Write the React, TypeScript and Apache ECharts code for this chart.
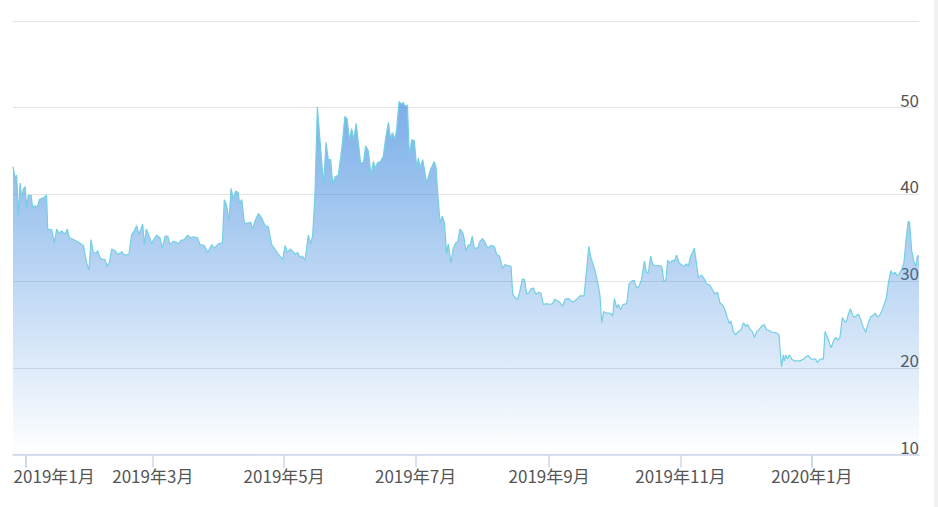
import React, { useEffect, useRef } from 'react';
import * as echarts from 'echarts';

// x values: days counted from START_DATE (fractional)
const START_DATE = '2019-01-01';
const dayOffsets = [
  -5.9, -5.0, -4.2, -3.4, -2.6, -1.9, -1.1, -0.3, 0.4, 1.2, 2.5, 3.2, 4.3, 5.4, 6.3, 8.2, 9.7, 10.2, 12.1, 13.3,
  14.4, 15.5, 16.7, 18.2, 19.3, 20.3, 22.1, 24.4, 26.8, 28.3, 29.4, 30.3, 31.4, 32.5, 33.4, 34.5, 35.6, 36.8, 37.9, 38.8,
  39.9, 41.5, 42.7, 43.8, 44.6, 45.8, 47.9, 49.2, 50.4, 51.5, 52.6, 53.5, 54.3, 55.1, 56.0, 57.3, 58.5, 59.4, 60.8, 62.3,
  63.4, 64.7, 65.9, 67.0, 68.5, 69.8, 70.9, 72.1, 73.6, 75.2, 76.3, 77.8, 79.8, 80.9, 82.9, 84.5, 86.3, 87.6, 89.4, 91.3,
  92.2, 93.3, 94.4, 95.3, 96.4, 97.5, 98.7, 99.2, 100.3, 101.5, 103.4, 104.4, 105.4, 106.4, 108.0, 109.5, 111.1, 112.6, 114.2, 115.7,
  117.3, 119.3, 120.4, 121.5, 122.7, 123.8, 125.0, 126.3, 127.3, 128.4, 129.7, 131.2, 132.3, 133.2, 134.3, 135.4, 136.6, 138.3, 139.4, 140.5,
  141.6, 142.5, 143.6, 145.1, 146.7, 148.2, 149.2, 150.3, 151.3, 152.3, 153.4, 154.4, 155.5, 156.8, 157.8, 159.1, 160.3, 161.4, 162.2, 163.4,
  164.5, 166.0, 167.1, 168.4, 169.3, 170.2, 171.5, 172.2, 173.3, 174.5, 175.3, 176.1, 177.2, 178.1, 179.2, 180.4, 181.5, 182.3, 183.1, 184.3,
  185.1, 186.1, 187.7, 189.6, 190.5, 191.6, 192.4, 193.4, 194.4, 195.4, 196.2, 197.4, 198.5, 199.6, 200.5, 201.6, 202.9, 203.6, 204.4, 205.5,
  206.3, 207.3, 208.3, 209.8, 210.9, 212.1, 213.2, 214.5, 216.0, 217.6, 218.6, 219.9, 221.3, 222.5, 223.8, 225.3, 226.1, 227.1, 228.4, 229.4,
  230.5, 231.5, 232.6, 233.7, 234.6, 235.7, 236.8, 238.3, 239.2, 240.3, 241.9, 243.4, 244.5, 245.7, 246.9, 248.1, 249.3, 250.4, 251.9, 253.2,
  254.2, 255.8, 257.3, 259.2, 260.3, 261.4, 262.4, 263.7, 264.7, 265.9, 266.6, 267.4, 268.3, 269.7, 271.3, 272.5, 273.3, 274.4, 275.1, 276.2,
  277.4, 279.0, 280.1, 281.3, 282.4, 283.6, 284.7, 285.9, 287.2, 288.2, 289.1, 290.1, 291.1, 292.2, 293.7, 295.3, 296.3, 297.3, 298.0, 299.1,
  300.2, 301.1, 302.2, 303.3, 304.5, 305.6, 306.8, 307.6, 308.7, 309.6, 310.4, 312.3, 313.8, 315.1, 316.1, 317.7, 318.8, 320.0, 321.2, 322.3,
  323.6, 324.6, 325.7, 326.7, 327.4, 328.5, 329.6, 330.8, 332.1, 333.2, 334.2, 335.2, 336.3, 337.3, 338.3, 339.4, 340.4, 341.7, 342.8, 344.0,
  345.1, 346.3, 347.6, 348.6, 349.7, 350.2, 350.9, 351.7, 352.2, 352.8, 353.7, 354.5, 355.6, 356.8, 357.9, 359.5, 361.0, 362.3, 363.3, 364.6,
  365.7, 366.7, 367.5, 368.8, 370.3, 371.1, 372.2, 373.1, 373.9, 375.0, 376.1, 377.0, 378.0, 379.1, 380.3, 381.1, 381.9, 382.9, 384.2, 385.3,
  386.5, 387.6, 388.6, 390.0, 391.2, 392.3, 393.2, 394.3, 395.3, 396.3, 397.4, 398.5, 399.4, 400.5, 401.6, 402.5, 403.6, 404.6, 405.4, 406.6,
  407.7, 408.7, 409.7, 410.3, 411.3, 412.3, 413.3, 414.0, 414.7,
];

const values = [
  43.2, 42.0, 42.2, 37.6, 41.3, 39.6, 40.6, 40.9, 38.5, 39.9, 39.9, 38.5, 38.7, 38.5, 39.4, 39.6, 39.9, 36.0, 35.9, 34.4,
  36.0, 35.5, 35.8, 35.4, 36.0, 35.0, 34.8, 34.5, 34.1, 32.1, 31.3, 34.8, 33.3, 33.2, 33.5, 32.7, 32.5, 32.5, 31.7, 32.1,
  33.7, 33.5, 33.1, 33.2, 33.4, 33.0, 33.1, 35.4, 35.8, 36.4, 35.4, 36.0, 36.6, 34.2, 36.0, 35.2, 34.3, 34.8, 35.3, 35.0,
  33.8, 35.2, 35.2, 34.2, 34.6, 34.5, 34.3, 34.7, 34.8, 35.3, 35.0, 35.1, 35.0, 34.2, 34.1, 33.3, 34.2, 33.8, 34.3, 34.4,
  39.4, 38.7, 36.9, 40.7, 39.5, 40.4, 40.2, 39.0, 39.4, 36.7, 36.7, 36.8, 36.0, 36.9, 37.8, 37.3, 36.4, 36.3, 34.2, 33.7,
  33.1, 32.5, 34.1, 33.3, 33.7, 33.5, 33.1, 33.3, 32.7, 32.9, 32.4, 35.3, 34.3, 35.2, 40.2, 50.1, 46.3, 41.0, 46.0, 44.0,
  44.0, 41.2, 42.0, 42.2, 45.2, 49.0, 48.7, 46.3, 47.6, 46.3, 48.2, 46.0, 43.6, 43.7, 45.6, 45.0, 42.2, 43.8, 43.0, 43.7,
  43.7, 44.4, 46.5, 48.3, 46.4, 47.1, 46.4, 47.5, 50.7, 50.4, 50.6, 50.2, 50.3, 44.4, 46.3, 46.2, 43.1, 44.2, 43.1, 44.0,
  42.9, 41.3, 42.7, 43.8, 43.1, 39.0, 36.7, 37.5, 36.7, 33.2, 34.3, 32.1, 33.8, 34.4, 34.5, 36.0, 35.6, 34.8, 33.5, 34.2,
  34.1, 35.2, 33.8, 33.8, 34.6, 34.9, 34.5, 33.8, 34.1, 34.0, 33.1, 32.9, 31.5, 31.9, 31.8, 31.7, 28.5, 28.1, 27.9, 28.8,
  30.2, 30.2, 28.5, 28.7, 29.1, 29.2, 28.5, 28.7, 28.6, 27.3, 27.4, 27.3, 27.4, 27.9, 27.7, 27.5, 27.1, 27.9, 28.0, 27.7,
  27.6, 27.9, 28.3, 28.3, 31.0, 34.0, 32.7, 31.7, 30.8, 29.4, 28.3, 25.2, 26.5, 26.3, 26.3, 26.0, 28.0, 26.9, 27.3, 26.7,
  27.3, 27.4, 29.7, 30.0, 30.1, 29.2, 29.4, 30.2, 32.3, 31.0, 31.0, 32.9, 31.9, 31.8, 31.8, 31.7, 29.9, 30.2, 32.4, 32.1,
  32.4, 32.3, 33.0, 32.1, 31.9, 31.7, 32.0, 31.7, 32.9, 33.3, 33.8, 30.4, 30.7, 30.2, 29.7, 29.5, 29.0, 28.5, 28.7, 27.5,
  27.2, 26.7, 25.8, 25.1, 25.4, 24.2, 23.8, 24.2, 24.4, 25.2, 24.8, 25.0, 24.4, 24.2, 23.5, 24.2, 24.4, 24.8, 25.0, 24.4,
  24.3, 24.1, 24.1, 24.0, 23.8, 22.1, 20.1, 21.5, 20.8, 21.5, 21.0, 21.5, 21.0, 20.8, 20.8, 20.8, 21.0, 21.3, 21.4, 21.0,
  21.0, 21.0, 20.6, 21.0, 21.0, 24.2, 23.5, 22.9, 22.3, 23.1, 23.5, 23.2, 23.5, 25.8, 25.3, 25.4, 26.2, 26.8, 25.9, 25.9,
  26.2, 25.6, 24.8, 24.1, 25.2, 25.9, 26.0, 26.3, 25.9, 26.0, 26.5, 27.3, 27.9, 29.8, 31.2, 30.8, 31.0, 30.6, 30.8, 31.3,
  32.1, 34.8, 36.9, 36.8, 33.5, 32.3, 31.7, 32.9, 32.9,
];

// tick marks at the start of every second month
const tickMonths = ['2019-01-01', '2019-03-01', '2019-05-01', '2019-07-01', '2019-09-01', '2019-11-01', '2020-01-01'];

const Y_MIN = 10;
const Y_MAX = 60;
const Y_STEP = 10;

const FONT = "'Microsoft YaHei', 'Noto Sans CJK SC', sans-serif";

export default function App() {
  const ref = useRef<HTMLDivElement>(null);

  useEffect(() => {
    if (!ref.current) return;
    const chart = echarts.init(ref.current, null, { renderer: 'svg' });
    const DAY = 86400000;
    const t0 = (echarts.time.parse(START_DATE) as Date).getTime();
    const data = dayOffsets.map((d, i) => [t0 + d * DAY, values[i]]);
    const tickValues = tickMonths.map((s) => (echarts.time.parse(s) as Date).getTime());
    const firstTick = tickValues[0];

    chart.setOption({
      animation: false,
      grid: { left: 13, right: 15, top: 21, bottom: 52.5, containLabel: false, outerBoundsMode: 'none' },
      xAxis: {
        type: 'time',
        min: 'dataMin',
        max: 'dataMax',
        axisLine: { show: true, lineStyle: { color: '#ccd6eb', width: 1.5 } },
        axisTick: {
          show: true,
          length: 13,
          customValues: tickValues,
          lineStyle: { color: '#ccd6eb', width: 1.5 },
        },
        axisLabel: {
          showMinLabel: false,
          showMaxLabel: false,
          margin: 12,
          color: '#555',
          fontSize: 17,
          fontFamily: FONT,
          formatter: (v: number) => {
            const d = new Date(v);
            const txt = `${d.getFullYear()}年${d.getMonth() + 1}月`;
            return Math.abs(v - firstTick) < DAY ? `{first|${txt}}` : txt;
          },
          rich: {
            first: { padding: [0, 0, 0, 57], fontSize: 17, fontFamily: FONT, color: '#555' },
          },
        },
        splitLine: { show: false },
      },
      yAxis: {
        type: 'value',
        position: 'right',
        min: Y_MIN,
        max: Y_MAX,
        interval: Y_STEP,
        axisLine: { show: false },
        axisTick: { show: false },
        axisLabel: {
          inside: true,
          margin: 0,
          verticalAlign: 'bottom',
          showMaxLabel: false,
          color: '#555',
          fontSize: 17,
          fontFamily: FONT,
        },
        splitLine: { show: true, lineStyle: { color: '#e3e3e3', width: 1 } },
      },
      series: [
        {
          type: 'line',
          data,
          symbol: 'none',
          showSymbol: false,
          lineStyle: { color: '#74cfe3', width: 1.2 },
          areaStyle: {
            opacity: 1,
            color: new echarts.graphic.LinearGradient(0, 0, 0, 1, [
              { offset: 0, color: 'rgba(60,136,222,0.68)' },
              { offset: 0.5, color: 'rgba(60,136,222,0.34)' },
              { offset: 1, color: 'rgba(60,136,222,0)' },
            ]),
          },
        },
      ],
    });

    return () => chart.dispose();
  }, []);

  return (
    <div style={{ position: 'fixed', left: 0, top: 0, width: 938, height: 507, background: '#fff' }}>
      <div ref={ref} style={{ width: 934, height: 507 }} />
      <div style={{ position: 'absolute', left: 934, top: 0, width: 4, height: 507, background: '#f1f1f1' }} />
    </div>
  );
}
